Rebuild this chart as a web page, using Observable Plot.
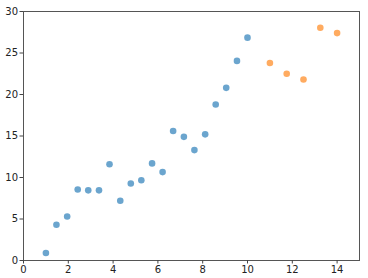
<!DOCTYPE html>
<html>
<head>
<meta charset="utf-8">
<script src="https://cdn.jsdelivr.net/npm/d3@7"></script>
<script src="https://cdn.jsdelivr.net/npm/@observablehq/plot@0.6"></script>
<style>
  html, body { margin: 0; padding: 0; background: #fff; }
  #chart svg { display: block; }
</style>
</head>
<body>
<div id="chart"></div>
<script>
const blueX = [1.00, 1.47, 1.95, 2.42, 2.89, 3.37, 3.84, 4.32, 4.79, 5.26, 5.74, 6.21, 6.68, 7.16, 7.63, 8.11, 8.58, 9.05, 9.53, 10.00];
const blueY = [0.9, 4.3, 5.3, 8.55, 8.45, 8.45, 11.6, 7.2, 9.27, 9.67, 11.7, 10.65, 15.6, 14.9, 13.3, 15.2, 18.8, 20.8, 24.05, 26.85];
const orangeX = [11.00, 11.75, 12.50, 13.25, 14.00];
const orangeY = [23.8, 22.5, 21.8, 28.05, 27.4];
const xTicks = [0, 2, 4, 6, 8, 10, 12, 14];
const yTicks = [0, 5, 10, 15, 20, 25, 30];

const blue = blueX.map((x, i) => ({x, y: blueY[i]}));
const orange = orangeX.map((x, i) => ({x, y: orangeY[i]}));

const chart = Plot.plot({
  width: 368,
  height: 278,
  marginLeft: 23,
  marginTop: 11,
  marginRight: 9,
  marginBottom: 18,
  style: { fontFamily: "DejaVu Sans", fontSize: "10px", color: "#222", background: "#fff" },
  x: { domain: [0, 15] },
  y: { domain: [0, 30] },
  marks: [
    Plot.frame({ stroke: "#555", strokeWidth: 1 }),
    Plot.axisX({ ticks: xTicks, tickSize: 3.5, tickPadding: 2, tickFormat: d => d, label: null, stroke: "#444" }),
    Plot.axisY({ ticks: yTicks, tickSize: 3.5, tickPadding: 2, tickFormat: d => d, label: null, stroke: "#444" }),
    Plot.dot(blue, { x: "x", y: "y", r: 3.3, fill: "#1f77b4", fillOpacity: 0.66, stroke: "none" }),
    Plot.dot(orange, { x: "x", y: "y", r: 3.3, fill: "#ff7f0e", fillOpacity: 0.66, stroke: "none" })
  ]
});
document.getElementById("chart").appendChild(chart);
</script>
</body>
</html>
